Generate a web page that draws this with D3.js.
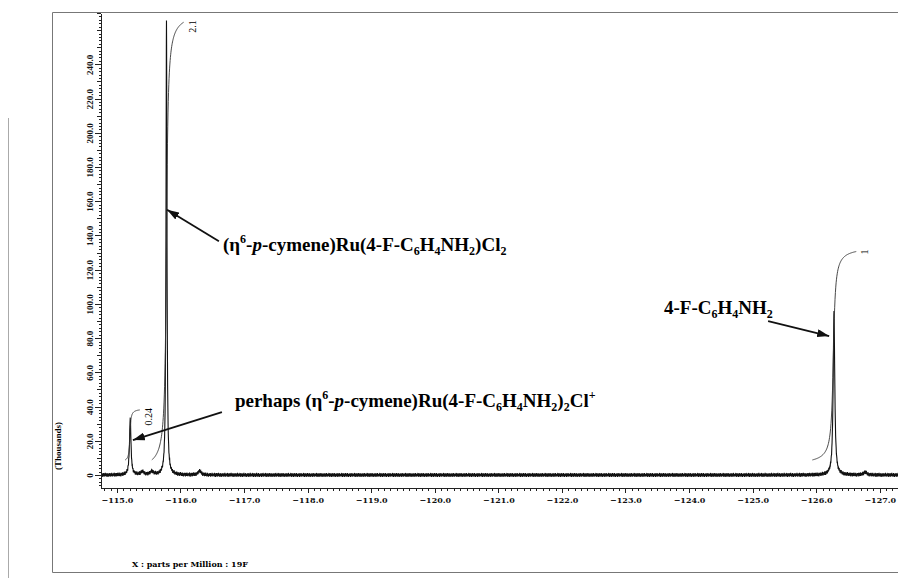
<!DOCTYPE html>
<html>
<head>
<meta charset="utf-8">
<script src="https://cdn.jsdelivr.net/npm/d3@7"></script>
<style>
body { margin: 0; background: #fff; }
svg { display: block; }
.ax path, .ax line { stroke: #222; shape-rendering: crispEdges; }
.ylab { font-family: "Liberation Serif", "Times New Roman", Times, serif; font-size: 9px; font-weight: bold; }
.xlab { font-family: "DejaVu Serif", serif; font-size: 8px; font-weight: bold; }
.note { font-family: "Liberation Serif", "Times New Roman", Times, serif; font-size: 19px; font-weight: bold; }
.intlab { font-family: "Liberation Serif", "Times New Roman", Times, serif; font-size: 10px; }
</style>
</head>
<body>
<svg width="898" height="586"></svg>
<script>
// 19F spectrum, peaks (ppm, height in thousands, half width in ppm)
var peakShift  = [-115.21, -115.40, -115.55, -115.78, -116.30, -126.28, -126.77];
var peakHeight = [33, 1.8, 1.8, 265, 2.2, 95, 1.6];
var peakWidth  = [0.014, 0.03, 0.03, 0.009, 0.03, 0.015, 0.03];

// baseline noise (thousands), repeated along the trace
var noise = [0.6, -0.9, 1.1, -0.4, 0.2, -1.2, 0.8, 0.1, -0.7, 1.0, -0.3, 0.5, -1.1, 0.9, -0.2,
             0.4, -0.8, 1.2, -0.6, 0.0, 0.7, -1.0, 0.3, -0.5, 1.1, -0.9, 0.2, 0.6, -1.2, 0.4,
             -0.1, 0.9, -0.7, 0.5, -0.4, 1.0, -1.1, 0.3, 0.8, -0.6, 0.1, -0.8, 1.2, -0.3, 0.6,
             -1.0, 0.2, 0.7, -0.5, 0.4];

// integrals
var integralValue  = [0.24, 2.1, 1];
var integralLabel  = ["0.24", "2.1", "1"];
var integralFrom   = [-115.13, -115.55, -125.94];
var integralTo     = [-115.36, -116.05, -126.63];
var integralCentre = [-115.205, -115.78, -126.27];
var integralWidth  = [0.012, 0.02, 0.025];

// axis ticks
var xMajor = d3.range(-115, -127.5, -1);
var yMajor = d3.range(0, 241, 20);

var svg = d3.select("svg");

var x = d3.scaleLinear().domain([-114.75, -127.35]).range([101, 902]);
var y = d3.scaleLinear().domain([-7.6, 270]).range([488, 13]);
// integral trace: 0 sits a little above the baseline
var yi = d3.scaleLinear().domain([0, 1]).range([y(8.8), y(8.8 + 121.8)]);

// paper frame
svg.append("path")
    .attr("d", "M898,12.5H52.5V572.5H898")
    .attr("fill", "none").attr("stroke", "#777").attr("stroke-width", 1);
svg.append("line")
    .attr("x1", 8.5).attr("x2", 8.5).attr("y1", 118).attr("y2", 578)
    .attr("stroke", "#aaa");

svg.append("clipPath").attr("id", "plot")
    .append("rect").attr("x", 101).attr("y", 0).attr("width", 797).attr("height", 488);

// spectrum
var pts = d3.range(0, 3151).map(function(i) { return -114.75 - i * 0.004; })
    .concat(peakShift)
    .sort(function(a, b) { return b - a; });

function signal(v, i) {
    var s = noise[i % noise.length];
    for (var k = 0; k < peakShift.length; k++) {
        var u = (v - peakShift[k]) / peakWidth[k];
        s += peakHeight[k] / (1 + u * u);
    }
    return s;
}

var spectrum = pts.map(function(v, i) { return [v, signal(v, i)]; });

var line = d3.line()
    .x(function(d) { return x(d[0]); })
    .y(function(d) { return y(d[1]); });

svg.append("path")
    .datum(spectrum)
    .attr("clip-path", "url(#plot)")
    .attr("fill", "none")
    .attr("stroke", "#111")
    .attr("stroke-width", 1.1)
    .attr("d", line);

// integral curves
integralValue.forEach(function(val, k) {
    var a = Math.atan((integralCentre[k] - integralFrom[k]) / integralWidth[k]);
    var b = Math.atan((integralCentre[k] - integralTo[k]) / integralWidth[k]);
    var steps = d3.range(0, 121).map(function(j) {
        return integralFrom[k] + (integralTo[k] - integralFrom[k]) * j / 120;
    });
    var curve = steps.map(function(v) {
        var f = (Math.atan((integralCentre[k] - v) / integralWidth[k]) - a) / (b - a);
        return [v, f * val];
    });
    svg.append("path")
        .datum(curve)
        .attr("fill", "none")
        .attr("stroke", "#333")
        .attr("stroke-width", 0.9)
        .attr("d", d3.line()
            .x(function(d) { return x(d[0]); })
            .y(function(d) { return yi(d[1]); }));
    svg.append("text")
        .attr("class", "intlab")
        .attr("text-anchor", "end")
        .attr("transform", "translate(" + (x(integralTo[k]) + 12) + "," + (yi(val) - 2) + ") rotate(-90)")
        .text(integralLabel[k]);
});

// y axis: minor, mid and major ticks
svg.append("g").attr("class", "ax")
    .attr("transform", "translate(101,0)")
    .call(d3.axisLeft(y).tickValues(d3.range(-6, 271, 2)).tickSize(2.5).tickSizeOuter(0).tickFormat(""));
svg.append("g").attr("class", "ax")
    .attr("transform", "translate(101,0)")
    .call(d3.axisLeft(y).tickValues(d3.range(-0, 271, 10)).tickSize(4).tickSizeOuter(0).tickFormat(""))
    .select(".domain").remove();
var yAxis = svg.append("g").attr("class", "ax")
    .attr("transform", "translate(101,0)")
    .call(d3.axisLeft(y).tickValues(yMajor).tickSize(6).tickSizeOuter(0)
        .tickFormat(function(d) { return d === 0 ? "0" : d.toFixed(1); }));
yAxis.select(".domain").remove();
yAxis.selectAll("text")
    .attr("class", "ylab")
    .attr("fill", "#111")
    .attr("x", null).attr("dy", null)
    .attr("text-anchor", "middle")
    .attr("transform", "translate(-8,0) rotate(-90)");

svg.append("text")
    .attr("class", "ylab")
    .attr("text-anchor", "middle")
    .attr("transform", "translate(61,446) rotate(-90)")
    .text("(Thousands)");

// x axis
svg.append("g").attr("class", "ax")
    .attr("transform", "translate(0,488)")
    .call(d3.axisBottom(x).tickValues(d3.range(-114.8, -127.35, -0.1)).tickSize(2.5).tickSizeOuter(0).tickFormat(""));
var xAxis = svg.append("g").attr("class", "ax")
    .attr("transform", "translate(0,488)")
    .call(d3.axisBottom(x).tickValues(xMajor).tickSize(5).tickSizeOuter(0)
        .tickFormat(function(d) { return "\u2212" + Math.abs(d).toFixed(1); }));
xAxis.select(".domain").remove();
xAxis.selectAll("text").attr("class", "xlab").attr("fill", "#111").attr("y", 9);

svg.append("text")
    .attr("class", "xlab")
    .attr("font-size", 9)
    .attr("x", 132).attr("y", 567)
    .text("X : parts per Million : 19F");

// annotations
svg.append("defs").append("marker")
    .attr("id", "head")
    .attr("viewBox", "0 0 12 8")
    .attr("refX", 12).attr("refY", 4)
    .attr("markerWidth", 12).attr("markerHeight", 8)
    .attr("markerUnits", "userSpaceOnUse")
    .attr("orient", "auto")
    .append("path").attr("d", "M0,0L12,4L0,8Z").attr("fill", "#111");

var arrows = [
    { from: [-116.605, 136.6], to: [-115.79, 155] },
    { from: [-125.244, 89.9],  to: [-126.204, 81.2] },
    { from: [-116.652, 36.8],  to: [-115.252, 20.4] }
];
arrows.forEach(function(a) {
    svg.append("line")
        .attr("x1", x(a.from[0])).attr("y1", y(a.from[1]))
        .attr("x2", x(a.to[0])).attr("y2", y(a.to[1]))
        .attr("stroke", "#111").attr("stroke-width", 1.8)
        .attr("marker-end", "url(#head)");
});

function rich(t, parts) {
    var shift = 0;
    parts.forEach(function(p) {
        var s = p[1] === "sub" ? 4 : p[1] === "sup" ? -8 : 0;
        var ts = t.append("tspan").text(p[0]).attr("dy", s - shift);
        if (p[1] === "sub" || p[1] === "sup") ts.attr("font-size", 12);
        if (p[1] === "i") ts.attr("font-style", "italic");
        shift = s;
    });
}

var notes = [
    { at: [-116.668, 130.8], parts: [["(\u03b7", ""], ["6", "sup"], ["-", ""], ["p", "i"],
        ["-cymene)Ru(4-F-C", ""], ["6", "sub"], ["H", ""], ["4", "sub"], ["NH", ""], ["2", "sub"],
        [")Cl", ""], ["2", "sub"]] },
    { at: [-123.607, 94.0], parts: [["4-F-C", ""], ["6", "sub"], ["H", ""], ["4", "sub"],
        ["NH", ""], ["2", "sub"]] },
    { at: [-116.857, 39.7], parts: [["perhaps (\u03b7", ""], ["6", "sup"], ["-", ""], ["p", "i"],
        ["-cymene)Ru(4-F-C", ""], ["6", "sub"], ["H", ""], ["4", "sub"], ["NH", ""], ["2", "sub"],
        [")", ""], ["2", "sub"], ["Cl", ""], ["+", "sup"]] }
];
notes.forEach(function(n) {
    var t = svg.append("text").attr("class", "note")
        .attr("x", x(n.at[0])).attr("y", y(n.at[1]));
    rich(t, n.parts);
});
</script>
</body>
</html>
